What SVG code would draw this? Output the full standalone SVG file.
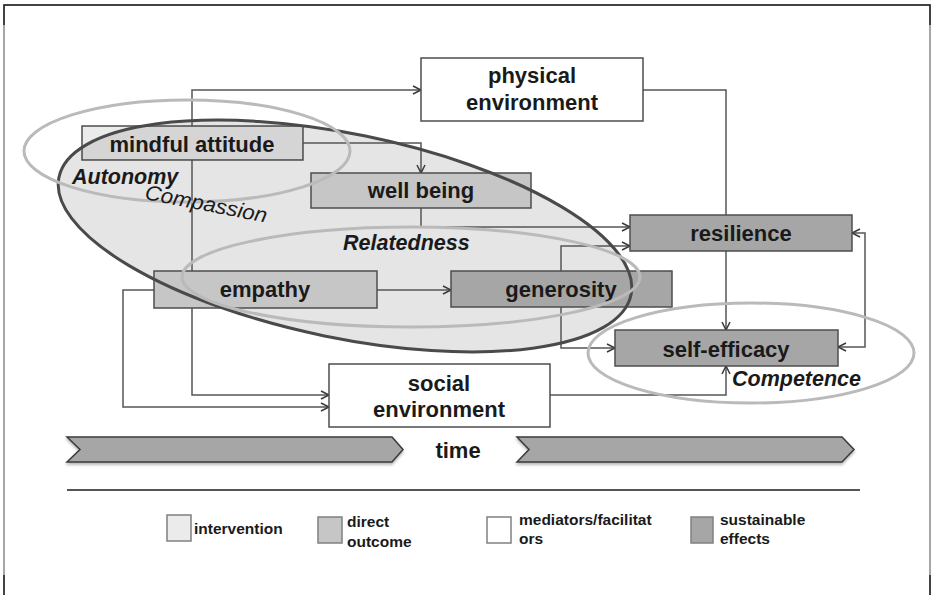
<svg xmlns="http://www.w3.org/2000/svg" width="934" height="595" viewBox="0 0 934 595">
<defs>
<style>
.box{stroke:#4d4d4d;stroke-width:1.5}
.iv{fill:#ebebeb}
.do{fill:#c6c6c6}
.md{fill:#ffffff}
.se{fill:#a6a6a6}
.nt{font-family:"Liberation Sans",Arial,sans-serif;font-weight:bold;font-size:22px;fill:#1a1a1a;text-anchor:middle}
.lab{font-family:"Liberation Sans",Arial,sans-serif;font-weight:bold;font-style:italic;font-size:21.5px;fill:#1a1a1a}
.lg{font-family:"Liberation Sans",Arial,sans-serif;font-weight:bold;font-size:15.5px;fill:#1a1a1a}
.lgb{stroke:#808080;stroke-width:1.5}
.con{fill:none;stroke:#555555;stroke-width:1.5}
.lell{fill:none;stroke:#bababa;stroke-width:3}
.chev{fill:#a6a6a6;stroke:#3a3a3a;stroke-width:1.5}
</style>
<marker id="arr" markerUnits="userSpaceOnUse" markerWidth="12" markerHeight="12" refX="9" refY="5" orient="auto-start-reverse">
<path d="M1,1 L9,5 L1,9" fill="none" stroke="#3a3a3a" stroke-width="1.5"/>
</marker>
<filter id="sh" x="-5%" y="-30%" width="110%" height="170%">
<feDropShadow dx="0" dy="2" stdDeviation="1.5" flood-color="#000" flood-opacity="0.3"/>
</filter>
<clipPath id="maClip"><rect x="82" y="126" width="221" height="34"/></clipPath>
</defs>

<!-- frame -->
<g id="frame" fill="none">
<path d="M4,595 V5 H930 V595" stroke="#8a8a8a" stroke-width="1.5"/>
<path d="M4,25 V5 H930 V25" stroke="#222" stroke-width="1.5"/>
<path d="M4,575 V595 M930,575 V595" stroke="#222" stroke-width="1.5"/>
</g>

<!-- compassion ellipse fill -->
<ellipse id="compassion-fill" cx="345" cy="236" rx="292" ry="102" transform="rotate(11.6 345 236)" fill="#e5e5e5"/>

<g id="connectors">
<path class="con" d="M192,271 V90 H421" marker-end="url(#arr)"/>
<path class="con" d="M303,143 H421 V173" marker-end="url(#arr)"/>
<path class="con" d="M421,208 V227 H630" marker-end="url(#arr)"/>
<path class="con" d="M561,272 V246 H630" marker-end="url(#arr)"/>
<path class="con" d="M561,307 V348 H615" marker-end="url(#arr)"/>
<path class="con" d="M643,90 H726 V330" marker-end="url(#arr)"/>
<path class="con" d="M852,233 H865 V347 H838" marker-start="url(#arr)" marker-end="url(#arr)"/>
<path class="con" d="M377,290 H451" marker-end="url(#arr)"/>
<path class="con" d="M154,290 H123 V407 H329" marker-end="url(#arr)"/>
<path class="con" d="M192,308 V395 H329" marker-end="url(#arr)"/>
<path class="con" d="M550,395 H726 V366" marker-end="url(#arr)"/>
</g>

<g id="physical-environment">
<rect class="box md" x="421" y="58" width="222" height="63"/>
<text class="nt" x="532" y="83">physical</text>
<text class="nt" x="532" y="110">environment</text>
</g>
<g id="mindful-attitude">
<rect class="box iv" x="82" y="126" width="221" height="34"/>
<g clip-path="url(#maClip)"><ellipse cx="345" cy="236" rx="292" ry="102" transform="rotate(11.6 345 236)" fill="#000" fill-opacity="0.09"/></g>
<text class="nt" x="192" y="152">mindful attitude</text>
</g>
<g id="well-being">
<rect class="box do" x="311" y="173" width="220" height="35"/>
<text class="nt" x="421" y="198">well being</text>
</g>
<g id="resilience">
<rect class="box se" x="630" y="215" width="222" height="36"/>
<text class="nt" x="741" y="241">resilience</text>
</g>
<g id="empathy">
<rect class="box do" x="154" y="271" width="223" height="37"/>
<text class="nt" x="265" y="297">empathy</text>
</g>
<g id="generosity">
<rect class="box se" x="451" y="271" width="221" height="36"/>
<text class="nt" x="561" y="297">generosity</text>
</g>
<g id="self-efficacy">
<rect class="box se" x="615" y="330" width="223" height="36"/>
<text class="nt" x="726" y="357">self-efficacy</text>
</g>
<g id="social-environment">
<rect class="box md" x="329" y="364" width="221" height="63"/>
<text class="nt" x="439" y="391">social</text>
<text class="nt" x="439" y="417">environment</text>
</g>

<!-- ellipses (groupings) -->
<g id="groupings">
<ellipse cx="345" cy="236" rx="292" ry="102" transform="rotate(11.6 345 236)" fill="none" stroke="#4a4a4a" stroke-width="3"/>
<ellipse class="lell" cx="187" cy="151" rx="163" ry="51"/>
<ellipse class="lell" cx="411" cy="277" rx="229" ry="50"/>
<ellipse class="lell" cx="751" cy="353" rx="163" ry="50"/>
<text class="lab" x="72" y="184">Autonomy</text>
<text x="144" y="199" transform="rotate(11 144 199)" font-family="Liberation Sans, Arial, sans-serif" font-style="italic" font-size="21" fill="#1a1a1a" textLength="124" lengthAdjust="spacingAndGlyphs">Compassion</text>
<text class="lab" x="343" y="250">Relatedness</text>
<text class="lab" x="732" y="386">Competence</text>
</g>

<!-- time -->
<g id="time">
<path class="chev" filter="url(#sh)" d="M67,437 H392 L403,449.5 L392,462 H67 L80,449.5 Z"/>
<path class="chev" filter="url(#sh)" d="M517,437 H842 L854,449.5 L842,462 H517 L529,449.5 Z"/>
<text class="nt" x="458" y="458">time</text>
</g>

<line id="separator" x1="67" y1="490" x2="860" y2="490" stroke="#555" stroke-width="2"/>

<g id="legend">
<rect class="lgb iv" x="167" y="515" width="24" height="26"/>
<text class="lg" x="194" y="534">intervention</text>
<rect class="lgb do" x="318" y="517" width="24" height="26"/>
<text class="lg" x="347" y="527">direct</text>
<text class="lg" x="347" y="547">outcome</text>
<rect class="lgb md" x="487" y="517" width="24" height="26"/>
<text class="lg" x="519" y="525">mediators/facilitat</text>
<text class="lg" x="519" y="544">ors</text>
<rect class="lgb se" x="691" y="517" width="22" height="26"/>
<text class="lg" x="720" y="525">sustainable</text>
<text class="lg" x="720" y="544">effects</text>
</g>
</svg>
